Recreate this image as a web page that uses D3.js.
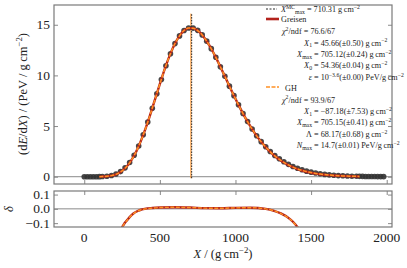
<!DOCTYPE html>
<html><head><meta charset="utf-8">
<script src="https://cdn.jsdelivr.net/npm/d3@7"></script>
<style>html,body{margin:0;padding:0;background:#fff;}svg{display:block;font-family:"Liberation Serif","DejaVu Serif",serif;}</style>
</head><body><svg id="c" width="407" height="268"></svg>
<script>
// ---- data ----
const dataX = [0,20,40,60,80,100,120,150,180,210,240,270,300,330,360,390,420,450,480,510,540,570,600,630,660,690,720,750,780,810,840,870,900,930,960,990,1020,1050,1080,1110,1140,1170,1200,1230,1260,1290,1320,1350,1380,1410,1440,1470,1500,1530,1560,1590,1620,1650,1680,1710,1740,1770,1800,1820,1840,1860,1880,1900,1920,1940,1960,1980];
const dataY = [0.000,0.000,0.000,0.001,0.002,0.006,0.015,0.046,0.118,0.262,0.505,0.872,1.40,2.12,3.03,4.14,5.39,6.76,8.18,9.60,10.95,12.14,13.14,13.90,14.44,14.68,14.67,14.45,14.00,13.38,12.64,11.79,10.86,9.92,8.94,8.00,7.10,6.24,5.44,4.71,4.05,3.46,2.95,2.49,2.10,1.77,1.47,1.22,1.01,0.83,0.68,0.55,0.45,0.36,0.29,0.23,0.18,0.14,0.11,0.09,0.07,0.05,0.04,0.035,0.03,0.025,0.02,0.017,0.014,0.012,0.010,0.008];
const fitX = [100,120,150,180,210,240,270,300,330,360,390,420,450,480,510,540,570,600,630,660,690,720,750,780,810,840,870,900,930,960,990,1020,1050,1080,1110,1140,1170,1200,1230,1260,1290,1320,1350,1380,1410,1440,1470,1500,1530,1560,1590,1620,1650,1680,1710,1740,1770,1800,1820];
const greisenY = [0.006,0.014,0.042,0.108,0.238,0.468,0.833,1.367,2.091,3.016,4.130,5.395,6.776,8.205,9.625,10.965,12.146,13.148,13.901,14.432,14.672,14.662,14.432,13.992,13.372,12.632,11.782,10.852,9.912,8.932,7.992,7.092,6.232,5.432,4.702,4.032,3.442,2.920,2.447,2.045,1.702,1.400,1.148,0.937,0.760,0.612,0.490,0.390,0.310,0.245,0.193,0.152,0.118,0.092,0.071,0.055,0.042,0.032,0.027];
const ghY = [0.005,0.013,0.041,0.106,0.235,0.464,0.828,1.362,2.087,3.013,4.129,5.397,6.78,8.21,9.63,10.97,12.15,13.15,13.90,14.43,14.67,14.66,14.43,13.99,13.37,12.63,11.78,10.85,9.91,8.93,7.99,7.09,6.23,5.43,4.70,4.03,3.44,2.92,2.45,2.05,1.71,1.41,1.16,0.95,0.775,0.629,0.508,0.408,0.327,0.261,0.207,0.164,0.129,0.101,0.079,0.062,0.048,0.037,0.031];
const resX = [240,250,260,270,285,300,325,350,370,400,450,500,600,700,800,900,1000,1100,1150,1200,1250,1300,1350,1380,1410,1420];
const resGreisen = [-0.16,-0.13,-0.112,-0.096,-0.077,-0.058,-0.033,-0.017,-0.008,0.000,0.006,0.009,0.011,0.009,0.005,0.004,0.007,0.008,0.006,0.000,-0.012,-0.032,-0.063,-0.090,-0.128,-0.145];
const resGH = [-0.16,-0.131,-0.113,-0.097,-0.078,-0.059,-0.034,-0.017,-0.008,-0.001,0.005,0.009,0.011,0.009,0.005,0.004,0.007,0.008,0.006,0.000,-0.012,-0.033,-0.064,-0.091,-0.129,-0.146];
const xmaxMC = 710.31, xmaxGH = 705.15;
const xTicks = [0,500,1000,1500,2000];
const yTicks = [0,5,10,15];
const resTicks = [-0.1,0,0.1];
const resTickLabels = ["\u22120.1","0.0","0.1"];

// ---- layout ----
const svg = d3.select("#c");
const L=54, R=392, mT=5, mB=184, rT=191, rB=227;
const x = d3.scaleLinear().domain([-200,2035]).range([L,R]);
const y = d3.scaleLinear().domain([-0.72,16.95]).range([mB,mT]);
const yr = d3.scaleLinear().domain([-0.127,0.125]).range([rB,rT]);
const grid = "#8a8a8a", frame="#7a7a7a", txt="#222";
const RED="#b3221c", ORG="#ff9124";

svg.append("defs").append("clipPath").attr("id","cm").append("rect").attr("x",L).attr("y",mT).attr("width",R-L).attr("height",mB-mT);
svg.select("defs").append("clipPath").attr("id","cr").append("rect").attr("x",L).attr("y",rT).attr("width",R-L).attr("height",rB-rT);

// zero lines
svg.append("line").attr("x1",L).attr("x2",R).attr("y1",y(0)).attr("y2",y(0)).attr("stroke",grid).attr("stroke-width",1);
svg.append("line").attr("x1",L).attr("x2",R).attr("y1",yr(0)).attr("y2",yr(0)).attr("stroke",grid).attr("stroke-width",1);

// ticks via axes (inward)
function styleAxis(g){g.select(".domain").remove();g.selectAll(".tick line").attr("stroke",grid).attr("stroke-width",1);g.selectAll("text").remove();}
svg.append("g").attr("transform",`translate(0,${mB})`).call(d3.axisTop(x).tickValues(xTicks).tickSize(4)).call(styleAxis);
svg.append("g").attr("transform",`translate(0,${rT})`).call(d3.axisBottom(x).tickValues(xTicks).tickSize(4)).call(styleAxis);
svg.append("g").attr("transform",`translate(${L},0)`).call(d3.axisRight(y).tickValues(yTicks).tickSize(4)).call(styleAxis);
svg.append("g").attr("transform",`translate(${R},0)`).call(d3.axisLeft(y).tickValues(yTicks).tickSize(4)).call(styleAxis);
svg.append("g").attr("transform",`translate(${L},0)`).call(d3.axisRight(yr).tickValues(resTicks).tickSize(4)).call(styleAxis);
svg.append("g").attr("transform",`translate(${R},0)`).call(d3.axisLeft(yr).tickValues(resTicks).tickSize(4)).call(styleAxis);

// tick labels
const fs=13.5;
svg.append("g").selectAll("text").data(xTicks).join("text").attr("x",d=>x(d)).attr("y",242).attr("text-anchor","middle").attr("font-size",fs).attr("fill",txt).text(d=>d);
svg.append("g").selectAll("text").data(yTicks).join("text").attr("x",50).attr("y",d=>y(d)+4.5).attr("text-anchor","end").attr("font-size",fs).attr("fill",txt).text(d=>d);
svg.append("g").selectAll("text").data(resTicks).join("text").attr("x",50).attr("y",d=>yr(d)+4.5).attr("text-anchor","end").attr("font-size",fs).attr("fill",txt).text((d,i)=>resTickLabels[i]);

// vertical Xmax lines
svg.append("line").attr("x1",x(xmaxGH)).attr("x2",x(xmaxGH)).attr("y1",y(-0.15)).attr("y2",y(16.1)).attr("stroke",ORG).attr("stroke-width",1);
svg.append("line").attr("x1",x(xmaxMC)).attr("x2",x(xmaxMC)).attr("y1",y(-0.15)).attr("y2",y(16.1)).attr("stroke","#111").attr("stroke-width",0.9).attr("stroke-dasharray","1.6,1.2");

// data points
svg.append("g").attr("clip-path","url(#cm)").selectAll("circle").data(dataX).join("circle")
  .attr("cx",d=>x(d)).attr("cy",(d,i)=>y(dataY[i])).attr("r",2.8).attr("fill","#333").attr("fill-opacity",0.9);

// fits
const lineM = d3.line().x(d=>x(d[0])).y(d=>y(d[1])).curve(d3.curveMonotoneX);
svg.append("path").attr("d",lineM(fitX.map((v,i)=>[v,greisenY[i]]))).attr("fill","none").attr("stroke",RED).attr("stroke-width",2.4);
svg.append("path").attr("d",lineM(fitX.map((v,i)=>[v,ghY[i]]))).attr("fill","none").attr("stroke",ORG).attr("stroke-width",1.5).attr("stroke-dasharray","4,1.5");

// residuals
const lineR = d3.line().x(d=>x(d[0])).y(d=>yr(d[1])).curve(d3.curveMonotoneX);
const gr = svg.append("g").attr("clip-path","url(#cr)");
gr.append("path").attr("d",lineR(resX.map((v,i)=>[v,resGreisen[i]]))).attr("fill","none").attr("stroke",RED).attr("stroke-width",2.4);
gr.append("path").attr("d",lineR(resX.map((v,i)=>[v,resGH[i]]))).attr("fill","none").attr("stroke",ORG).attr("stroke-width",1.4).attr("stroke-dasharray","4,1.5");

// frames
svg.append("rect").attr("x",L).attr("y",mT).attr("width",R-L).attr("height",mB-mT).attr("fill","none").attr("stroke",frame).attr("stroke-width",1.2);
svg.append("rect").attr("x",L).attr("y",rT).attr("width",R-L).attr("height",rB-rT).attr("fill","none").attr("stroke",frame).attr("stroke-width",1.2);

// rich text helper
function rich(g,xp,yp,parts,size,anchor){
  const t=g.append("text").attr("x",xp).attr("y",yp).attr("font-size",size).attr("fill",txt).attr("text-anchor",anchor||"start");
  let shift=0;
  parts.forEach(p=>{
    const s = typeof p==="string"?{t:p}:p;
    const sp=t.append("tspan").text(s.t);
    let target = s.sup? -size*0.38 : s.sub? size*0.22 : 0;
    const dy = target-shift; shift=target;
    if(dy!==0) sp.attr("dy",dy);
    if(s.sup||s.sub) sp.attr("font-size",size*0.7);
    if(s.it) sp.attr("font-style","italic");
  });
  return t;
}

// axis labels
rich(svg.append("g").attr("transform","translate(27,94) rotate(-90)"),0,0,
  ["(d",{t:"E",it:1},"/d",{t:"X",it:1},") / (PeV / g\u2009cm",{t:"\u22122",sup:1},{t:")"}],12.5,"middle");
rich(svg.append("g").attr("transform","translate(13,209) rotate(-90)"),0,0,[{t:"\u03b4",it:1}],12.5,"middle");
rich(svg,223,258,[{t:"X",it:1}," / (g\u2009cm",{t:"\u22122",sup:1},")"],12.5,"middle");

// legend
const lg=svg.append("g");
const lfs=8.2, eqX=314;
lg.append("line").attr("x1",266).attr("x2",277).attr("y1",9).attr("y2",9).attr("stroke","#111").attr("stroke-width",0.9).attr("stroke-dasharray","2,1.5");
rich(lg,281,12,[{t:"X",it:1},{t:"MC",sup:1},{t:"max",sub:1}," = 710.31 g\u2009cm",{t:"\u22122",sup:1}],lfs);
lg.append("line").attr("x1",266).attr("x2",279).attr("y1",19).attr("y2",19).attr("stroke",RED).attr("stroke-width",2.6);
rich(lg,281,22,["Greisen"],lfs);
rich(lg,282,34,[{t:"\u03c7",it:1},{t:"2",sup:1},{t:"/ndf = 76.6/67"}],lfs);
const rowsG=[
  [[{t:"X",it:1},{t:"1",sub:1}],["= 45.66(\u00b10.50) g\u2009cm",{t:"\u22122",sup:1}]],
  [[{t:"X",it:1},{t:"max",sub:1}],["= 705.12(\u00b10.24) g\u2009cm",{t:"\u22122",sup:1}]],
  [[{t:"X",it:1},{t:"0",sub:1}],["= 54.36(\u00b10.04) g\u2009cm",{t:"\u22122",sup:1}]],
  [[{t:"\u03b5",it:1}],["= 10",{t:"\u22123.6",sup:1},{t:"(\u00b10.00) PeV/g\u2009cm"},{t:"\u22122",sup:1}]]
];
rowsG.forEach((r,i)=>{const yy=45.5+i*11.4; rich(lg,eqX-2,yy,r[0],lfs,"end"); rich(lg,eqX,yy,r[1],lfs);});
lg.append("line").attr("x1",266).attr("x2",279).attr("y1",87).attr("y2",87).attr("stroke",ORG).attr("stroke-width",1.6).attr("stroke-dasharray","4,1.5");
rich(lg,285,91,["GH"],lfs);
rich(lg,282,102.5,[{t:"\u03c7",it:1},{t:"2",sup:1},{t:"/ndf = 93.9/67"}],lfs);
const rowsH=[
  [[{t:"X",it:1},{t:"1",sub:1}],["= \u221287.18(\u00b17.53) g\u2009cm",{t:"\u22122",sup:1}]],
  [[{t:"X",it:1},{t:"max",sub:1}],["= 705.15(\u00b10.41) g\u2009cm",{t:"\u22122",sup:1}]],
  [[{t:"\u039b"}],["= 68.17(\u00b10.68) g\u2009cm",{t:"\u22122",sup:1}]],
  [[{t:"N",it:1},{t:"max",sub:1}],["= 14.7(\u00b10.01) PeV/g\u2009cm",{t:"\u22122",sup:1}]]
];
rowsH.forEach((r,i)=>{const yy=114+i*11.4; rich(lg,eqX-2,yy,r[0],lfs,"end"); rich(lg,eqX,yy,r[1],lfs);});
</script></body></html>
